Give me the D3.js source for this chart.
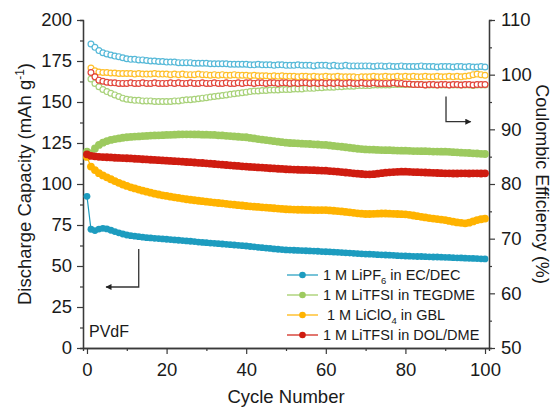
<!DOCTYPE html>
<html>
<head>
<meta charset="utf-8">
<script src="https://cdn.jsdelivr.net/npm/d3@7"></script>
<style>
  html, body { margin: 0; padding: 0; background: #fff; }
  svg { display: block; font-family: "Liberation Sans", Arial, sans-serif; }
</style>
</head>
<body>
<div id="chart"></div>
<script>
// Discharge capacity (left axis) and coulombic efficiency (right axis) vs cycle number

// capacity series, cycles 0..100 (mAh g-1)
const capLiPF6 = [
  92.5, 72.4, 71.6, 72.5, 73.0, 72.6, 71.8, 71.0, 70.2, 69.5,
  68.9, 68.5, 68.2, 67.9, 67.6, 67.3, 67.1, 66.9, 66.7, 66.5,
  66.3, 66.1, 65.9, 65.7, 65.5, 65.3, 65.1, 64.9, 64.6, 64.4,
  64.2, 64.0, 63.8, 63.6, 63.4, 63.2, 63.0, 62.8, 62.6, 62.4,
  62.2, 61.9, 61.7, 61.4, 61.2, 60.9, 60.7, 60.4, 60.2, 60.0,
  59.8, 59.7, 59.6, 59.5, 59.4, 59.3, 59.2, 59.1, 59.0, 58.8,
  58.7, 58.6, 58.4, 58.3, 58.1, 58.0, 57.9, 57.7, 57.6, 57.4,
  57.3, 57.2, 57.1, 56.9, 56.8, 56.7, 56.6, 56.5, 56.3, 56.2,
  56.1, 56.0, 55.9, 55.8, 55.8, 55.7, 55.6, 55.5, 55.5, 55.4,
  55.3, 55.2, 55.1, 55.0, 54.9, 54.8, 54.7, 54.6, 54.5, 54.4,
  54.3
];
const capTEGDME = [
  119.7, 118.7, 121.7, 123.8, 125.2, 126.2, 126.9, 127.4, 127.8, 128.2,
  128.5, 128.7, 128.9, 129.0, 129.2, 129.3, 129.5, 129.6, 129.7, 129.8,
  129.9, 130.0, 130.1, 130.2, 130.3, 130.3, 130.3, 130.2, 130.2, 130.1,
  130.1, 130.0, 129.9, 129.7, 129.6, 129.4, 129.2, 129.0, 128.8, 128.6,
  128.5, 128.1, 127.8, 127.4, 127.1, 126.8, 126.5, 126.1, 125.8, 125.5,
  125.2, 125.0, 124.9, 124.8, 124.6, 124.5, 124.4, 124.2, 124.1, 123.9,
  123.8, 123.5, 123.2, 123.0, 122.7, 122.4, 122.1, 121.8, 121.5, 121.3,
  121.1, 121.0, 120.9, 120.8, 120.7, 120.6, 120.6, 120.5, 120.4, 120.3,
  120.3, 120.2, 120.1, 120.1, 120.0, 120.0, 119.9, 119.8, 119.8, 119.7,
  119.7, 119.6, 119.4, 119.3, 119.1, 119.0, 118.9, 118.7, 118.6, 118.4,
  118.3
];
const capGBL = [
  116.5, 110.6, 108.5, 106.6, 105.2, 104.1, 102.9, 101.8, 100.7, 99.7,
  98.8, 98.0, 97.3, 96.6, 95.9, 95.3, 94.7, 94.1, 93.6, 93.1,
  92.7, 92.3, 91.9, 91.5, 91.1, 90.7, 90.4, 90.1, 89.8, 89.5,
  89.2, 89.0, 88.7, 88.4, 88.2, 87.9, 87.6, 87.4, 87.1, 86.9,
  86.6, 86.4, 86.2, 86.0, 85.8, 85.6, 85.4, 85.2, 85.0, 84.8,
  84.6, 84.5, 84.4, 84.3, 84.3, 84.2, 84.2, 84.1, 84.1, 84.1,
  84.1, 83.9, 83.7, 83.5, 83.3, 83.0, 82.7, 82.4, 82.1, 81.9,
  81.7, 81.7, 81.8, 81.9, 82.0, 82.0, 81.9, 81.8, 81.7, 81.6,
  81.5, 81.2, 80.8, 80.4, 80.0, 79.6, 79.2, 78.9, 78.6, 78.3,
  78.0, 77.5, 77.0, 76.6, 76.3, 76.0, 76.4, 77.2, 78.0, 78.5,
  78.9
];
const capDOL = [
  118.1, 117.2, 116.9, 116.6, 116.4, 116.3, 116.2, 116.0, 115.9, 115.8,
  115.7, 115.6, 115.4, 115.3, 115.1, 115.0, 114.8, 114.7, 114.5, 114.4,
  114.2, 114.1, 113.9, 113.8, 113.6, 113.4, 113.3, 113.1, 112.9, 112.8,
  112.6, 112.4, 112.2, 112.0, 111.8, 111.6, 111.4, 111.2, 111.0, 110.8,
  110.6, 110.4, 110.3, 110.1, 110.0, 109.8, 109.6, 109.5, 109.3, 109.2,
  109.0, 108.9, 108.8, 108.7, 108.6, 108.6, 108.5, 108.4, 108.3, 108.2,
  108.1, 107.9, 107.7, 107.5, 107.3, 107.0, 106.8, 106.5, 106.3, 106.1,
  105.9, 105.9, 106.0, 106.3, 106.6, 106.9, 107.1, 107.3, 107.4, 107.5,
  107.5, 107.4, 107.3, 107.2, 107.1, 107.0, 106.9, 106.8, 106.7, 106.6,
  106.5, 106.5, 106.4, 106.4, 106.5, 106.5, 106.4, 106.5, 106.5, 106.4,
  106.5
];

// coulombic efficiency series, cycles 1..100 (%)
const ceLiPF6 = [
  105.6, 105.0, 104.4, 104.0, 103.8, 103.6, 103.4, 103.3, 103.1, 102.9,
  102.8, 102.8, 102.7, 102.7, 102.6, 102.5, 102.5, 102.4, 102.4, 102.3,
  102.3, 102.3, 102.2, 102.2, 102.2, 102.2, 102.1, 102.1, 102.1, 102.1,
  102.0, 102.0, 102.0, 102.0, 102.0, 101.9, 101.9, 101.9, 101.9, 101.9,
  101.8, 101.8, 101.9, 101.8, 101.8, 101.8, 101.7, 101.8, 101.8, 101.7,
  101.7, 101.7, 101.8, 101.7, 101.7, 101.7, 101.6, 101.7, 101.7, 101.7,
  101.6, 101.7, 101.6, 101.6, 101.7, 101.6, 101.6, 101.6, 101.6, 101.6,
  101.6, 101.5, 101.6, 101.6, 101.5, 101.6, 101.5, 101.5, 101.6, 101.5,
  101.5, 101.5, 101.5, 101.6, 101.5, 101.5, 101.5, 101.4, 101.5, 101.5,
  101.5, 101.4, 101.5, 101.5, 101.4, 101.5, 101.4, 101.4, 101.5, 101.4
];
const ceTEGDME = [
  99.2, 98.4, 97.8, 97.3, 96.9, 96.6, 96.3, 96.0, 95.7, 95.5,
  95.4, 95.3, 95.3, 95.2, 95.2, 95.2, 95.1, 95.1, 95.1, 95.1,
  95.1, 95.2, 95.2, 95.3, 95.4, 95.4, 95.5, 95.6, 95.7, 95.8,
  95.9, 96.0, 96.1, 96.2, 96.3, 96.4, 96.5, 96.6, 96.7, 96.8,
  96.9, 97.0, 97.0, 97.1, 97.1, 97.2, 97.2, 97.2, 97.3, 97.3,
  97.3, 97.4, 97.4, 97.4, 97.5, 97.5, 97.5, 97.6, 97.6, 97.7,
  97.7, 97.7, 97.8, 97.8, 97.9, 97.9, 97.9, 98.0, 98.0, 98.0,
  98.0, 98.1, 98.1, 98.1, 98.1, 98.1, 98.2, 98.2, 98.2, 98.2,
  98.2, 98.2, 98.2, 98.2, 98.1, 98.1, 98.1, 98.1, 98.1, 98.1,
  98.1, 98.1, 98.1, 98.1, 98.1, 98.1, 98.0, 98.1, 98.1, 98.1
];
const ceGBL = [
  101.2, 100.7, 100.5, 100.4, 100.4, 100.3, 100.3, 100.2, 100.2, 100.2,
  100.2, 100.1, 100.2, 100.1, 100.1, 100.1, 100.2, 100.1, 100.1, 100.1,
  100.0, 100.1, 100.0, 100.1, 100.0, 100.0, 100.0, 100.1, 100.0, 100.0,
  99.9, 100.0, 99.9, 100.0, 99.9, 99.9, 100.0, 99.9, 99.9, 99.9,
  99.8, 99.9, 99.8, 99.8, 99.8, 99.7, 99.8, 99.7, 99.8, 99.7,
  99.7, 99.7, 99.6, 99.7, 99.7, 99.6, 99.7, 99.6, 99.6, 99.7,
  99.6, 99.6, 99.7, 99.6, 99.6, 99.6, 99.6, 99.5, 99.6, 99.6,
  99.6, 99.7, 99.6, 99.6, 99.7, 99.6, 99.6, 99.7, 99.6, 99.7,
  99.6, 99.7, 99.6, 99.6, 99.7, 99.6, 99.6, 99.7, 99.6, 99.6,
  99.7, 99.6, 99.7, 99.6, 99.7, 99.8, 100.0, 100.1, 100.0, 99.9
];
const ceDOL = [
  100.4, 99.6, 99.0, 98.8, 98.6, 98.5, 98.5, 98.4, 98.4, 98.4,
  98.5, 98.4, 98.4, 98.5, 98.4, 98.4, 98.5, 98.4, 98.4, 98.4,
  98.5, 98.4, 98.5, 98.4, 98.4, 98.5, 98.4, 98.4, 98.5, 98.4,
  98.4, 98.5, 98.4, 98.4, 98.5, 98.4, 98.4, 98.5, 98.4, 98.5,
  98.5, 98.4, 98.5, 98.5, 98.4, 98.5, 98.5, 98.4, 98.5, 98.5,
  98.4, 98.5, 98.4, 98.5, 98.5, 98.4, 98.5, 98.4, 98.5, 98.4,
  98.5, 98.4, 98.5, 98.4, 98.4, 98.5, 98.4, 98.4, 98.5, 98.4,
  98.4, 98.5, 98.4, 98.4, 98.4, 98.4, 98.5, 98.4, 98.4, 98.3,
  98.3, 98.2, 98.2, 98.2, 98.1, 98.2, 98.2, 98.1, 98.2, 98.2,
  98.1, 98.2, 98.2, 98.1, 98.2, 98.2, 98.1, 98.2, 98.2, 98.2
];

const labels = ["1 M LiPF", "1 M LiTFSI in TEGDME", " 1 M LiClO", "1 M LiTFSI in DOL/DME"];
const colors = ["#1d9cbf", "#9dca5f", "#ffb300", "#cf1c10"];
const ceColors = ["#56b9d8", "#a9d27a", "#ffbf2a", "#e2453a"];

const capTicks = [0, 25, 50, 75, 100, 125, 150, 175, 200];
const ceTicks = [50, 60, 70, 80, 90, 100, 110];
const cycleTicks = [0, 20, 40, 60, 80, 100];

const W = 555, H = 408;
const svg = d3.select("#chart").append("svg").attr("width", W).attr("height", H);

const x = d3.scaleLinear().domain([-1, 101]).range([83, 489]);
const yL = d3.scaleLinear().domain([0, 200]).range([348, 20]);
const yR = d3.scaleLinear().domain([50, 110]).range([348, 20]);

const axisColor = "#3a3a3a";
const tickFont = 18.5;

function styleAxis(g) {
  g.selectAll("path.domain").attr("stroke", axisColor).attr("stroke-width", 1.3);
  g.selectAll(".tick line").attr("stroke", axisColor).attr("stroke-width", 1.2);
  g.selectAll(".tick text").attr("fill", "#1a1a1a").attr("font-size", tickFont)
    .attr("font-family", "Liberation Sans, Arial, sans-serif");
}

// minor ticks first
const minorL = d3.range(12.5, 200, 25);
const minorR = d3.range(55, 110, 10);
const minorX = d3.range(10, 100, 20);
svg.append("g").attr("transform", "translate(83,0)")
  .call(d3.axisLeft(yL).tickValues(minorL).tickSize(3).tickFormat(""))
  .call(styleAxis);
svg.append("g").attr("transform", "translate(489,0)")
  .call(d3.axisRight(yR).tickValues(minorR).tickSize(3).tickFormat(""))
  .call(styleAxis);
svg.append("g").attr("transform", "translate(0,348)")
  .call(d3.axisBottom(x).tickValues(minorX).tickSize(3).tickFormat(""))
  .call(styleAxis);

// major axes
svg.append("g").attr("transform", "translate(83,0)")
  .call(d3.axisLeft(yL).tickValues(capTicks).tickSize(6).tickSizeOuter(0).tickPadding(5))
  .call(styleAxis);
svg.append("g").attr("transform", "translate(489,0)")
  .call(d3.axisRight(yR).tickValues(ceTicks).tickSize(6).tickSizeOuter(0).tickPadding(6))
  .call(styleAxis);
svg.append("g").attr("transform", "translate(0,348)")
  .call(d3.axisBottom(x).tickValues(cycleTicks).tickSize(6).tickSizeOuter(0).tickPadding(9))
  .call(styleAxis);

// axis titles
const left = svg.append("text")
  .attr("transform", `translate(31,${(20 + 348) / 2}) rotate(-90)`)
  .attr("text-anchor", "middle").attr("font-size", 18.5).attr("fill", "#1a1a1a");
left.append("tspan").text("Discharge Capacity (mAh g");
left.append("tspan").attr("dy", -7).attr("font-size", 12).text("-1");
left.append("tspan").attr("dy", 7).text(")");

svg.append("text")
  .attr("transform", `translate(536,${(20 + 348) / 2}) rotate(90)`)
  .attr("text-anchor", "middle").attr("font-size", 18).attr("fill", "#1a1a1a")
  .text("Coulombic Efficiency (%)");

svg.append("text").attr("x", 286).attr("y", 403)
  .attr("text-anchor", "middle").attr("font-size", 18.5).attr("fill", "#1a1a1a")
  .text("Cycle Number");

svg.append("text").attr("x", 89).attr("y", 337)
  .attr("font-size", 16).attr("fill", "#1a1a1a").text("PVdF");

// coulombic efficiency: open circles
const ceSeries = [ceTEGDME, ceGBL, ceDOL, ceLiPF6];
const ceIdx = [1, 2, 3, 0];
ceSeries.forEach((vals, k) => {
  const c = ceColors[ceIdx[k]];
  svg.append("g").selectAll("circle").data(vals).enter().append("circle")
    .attr("cx", (d, i) => x(i + 1))
    .attr("cy", d => yR(d))
    .attr("r", 2.9)
    .attr("fill", "#fff")
    .attr("stroke", c)
    .attr("stroke-width", 1.2);
});

// discharge capacity: filled circles with line
const capSeries = [capLiPF6, capTEGDME, capGBL, capDOL];
const line = d3.line().x((d, i) => x(i)).y(d => yL(d));
capSeries.forEach((vals, k) => {
  const g = svg.append("g");
  g.append("path").datum(vals).attr("d", line)
    .attr("fill", "none").attr("stroke", colors[k]).attr("stroke-width", 1.2);
  g.selectAll("circle").data(vals).enter().append("circle")
    .attr("cx", (d, i) => x(i))
    .attr("cy", d => yL(d))
    .attr("r", k === 0 ? 3.4 : 3.9)
    .attr("fill", colors[k]);
});

// arrows pointing to the matching axis
svg.append("defs").append("marker")
  .attr("id", "ah").attr("viewBox", "0 0 10 10").attr("refX", 9).attr("refY", 5)
  .attr("markerWidth", 7).attr("markerHeight", 6).attr("markerUnits", "userSpaceOnUse")
  .attr("orient", "auto")
  .append("path").attr("d", "M0,0 L10,5 L0,10 Z").attr("fill", "#222");

svg.append("path")
  .attr("d", `M${x(13)},${yL(60.4)} V${yL(37.2)} H${x(4.8)}`)
  .attr("fill", "none").attr("stroke", "#333").attr("stroke-width", 1.3)
  .attr("marker-end", "url(#ah)");
svg.append("path")
  .attr("d", `M${x(90.2)},${yR(96.0)} V${yR(91.4)} H${x(96.4)}`)
  .attr("fill", "none").attr("stroke", "#333").attr("stroke-width", 1.3)
  .attr("marker-end", "url(#ah)");

// legend
const subs = ["6", null, "4", null];
const rest = [" in EC/DEC", null, " in GBL", null];
const legend = svg.append("g");
labels.forEach((lab, i) => {
  const yy = 275 + i * 20;
  legend.append("line").attr("x1", 287).attr("x2", 318).attr("y1", yy).attr("y2", yy)
    .attr("stroke", colors[i]).attr("stroke-width", 1.2);
  legend.append("circle").attr("cx", 302.5).attr("cy", yy).attr("r", 3.3).attr("fill", colors[i]);
  const t = legend.append("text").attr("x", 323).attr("y", yy + 5)
    .attr("font-size", 14.5).attr("fill", "#1a1a1a").attr("xml:space", "preserve")
    .style("white-space", "pre");
  t.append("tspan").text(lab);
  if (subs[i]) {
    t.append("tspan").attr("dy", 4).attr("font-size", 9.5).text(subs[i]);
    t.append("tspan").attr("dy", -4).text(rest[i]);
  }
});
</script>
</body>
</html>
